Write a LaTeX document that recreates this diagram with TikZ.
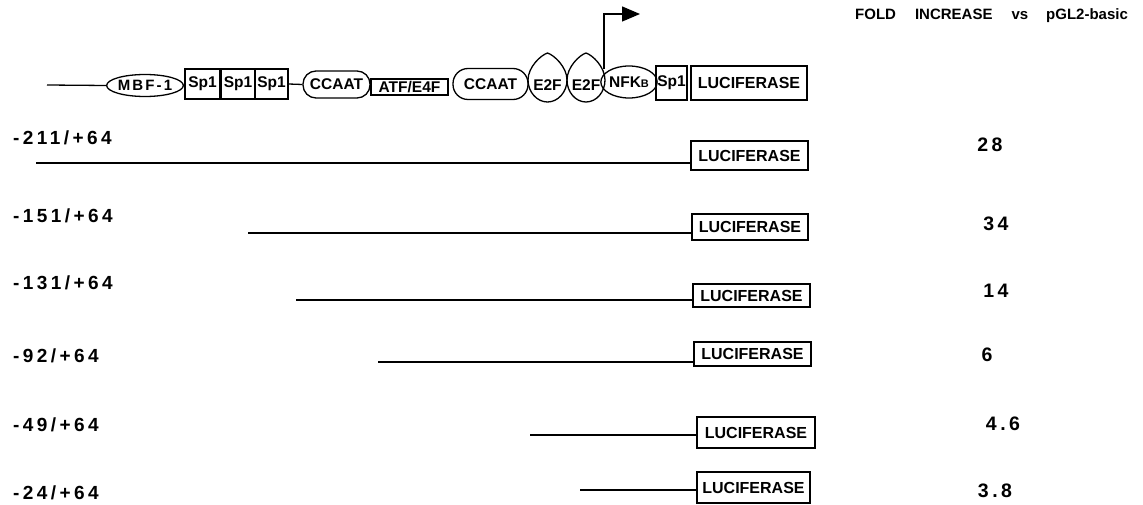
\documentclass[tikz,border=0pt]{standalone}
\usepackage{fontspec}
\setmainfont{Liberation Sans}
\newfontfamily\widefont[LetterSpace=18]{Liberation Sans}
\newfontfamily\mbffont[LetterSpace=14]{Liberation Sans}
\usetikzlibrary{arrows.meta,shapes.geometric}

\tikzset{
  elem/.style={draw, line width=1.3pt, inner sep=0pt,
               font=\fontsize{15.5}{15.5}\selectfont\bfseries},
  boxel/.style={elem, rectangle},
  ovalel/.style={elem, ellipse},
  pillel/.style={elem, rectangle, rounded corners=13pt},
  dna/.style={line width=1.3pt},
  lucbox/.style={draw, line width=1.4pt, inner sep=0pt,
                 font=\fontsize{16}{16}\selectfont\bfseries},
  rowlabel/.style={anchor=west, inner sep=0pt,
                   font=\widefont\fontsize{19}{19}\selectfont\bfseries},
  foldval/.style={inner sep=0pt,
                  font=\widefont\fontsize{19.5}{19.5}\selectfont\bfseries},
}

\begin{document}
\begin{tikzpicture}[x=1pt,y=-1pt]
\useasboundingbox (0,0) rectangle (1143,505);

% column heading
\node[anchor=west, inner sep=0pt, font=\fontsize{15}{15}\selectfont\bfseries]
  (head) at (855,16) {FOLD\hspace{19pt}INCREASE\hspace{19pt}vs\hspace{18pt}pGL2-basic};

% ---- promoter construct ----
\coordinate (dnastart) at (47,85);
\node[ovalel, minimum width=66pt, minimum height=22pt, font=\mbffont\fontsize{15}{15}\selectfont\bfseries]
  (mbf) at (145,85.5) {MBF-1};
\node[boxel, minimum width=35pt, minimum height=30pt] (spa) at (202.5,84) {Sp1};
\node[boxel, minimum width=34pt, minimum height=30pt] (spb) at (238,84) {Sp1};
\node[boxel, minimum width=33pt, minimum height=30pt] (spc) at (271.5,84) {Sp1};
\node[pillel, minimum width=67pt, minimum height=27pt] (ccaata) at (336.5,84.5) {CCAAT};
\node[boxel, minimum width=77pt, minimum height=16pt] (atf) at (409.5,87) {ATF/E4F};
\node[pillel, minimum width=75pt, minimum height=31pt, rounded corners=15pt] (ccaatb) at (490.5,84) {CCAAT};

% E2F sites: bulb-shaped outlines
\draw[line width=1.3pt] (547.5,53) .. controls (554,55) and (567,67) .. (567,80)
  .. controls (567,92) and (558,102) .. (547.5,102)
  .. controls (537,102) and (528,92) .. (528,80)
  .. controls (528,67) and (541,55) .. (547.5,53);
\draw[line width=1.3pt] (586,53) .. controls (592.5,55) and (605,67) .. (605,80)
  .. controls (605,92) and (596.5,102) .. (586,102)
  .. controls (575.5,102) and (567,92) .. (567,80)
  .. controls (567,67) and (579.5,55) .. (586,53);
\node[inner sep=0pt, font=\fontsize{15.5}{15.5}\selectfont\bfseries] (e2fa) at (547.5,85) {E2F};
\node[inner sep=0pt, font=\fontsize{15.5}{15.5}\selectfont\bfseries] (e2fb) at (586,85) {E2F};

\node[ovalel, minimum width=48pt, minimum height=32pt] (nfkb) at (629,82)
  {NFK\fontsize{11}{11}\selectfont B};
\node[boxel, minimum width=31pt, minimum height=34pt] (spd) at (671.5,83) {Sp1};
\node[lucbox, minimum width=116pt, minimum height=34pt] (luctop) at (749,83) {LUCIFERASE};

\draw[dna] (dnastart) -- (mbf.west);
\draw[dna] (mbf.east) -- (spa.west);
\draw[dna] (spc.east) -- (ccaata.west);

% transcription start
\coordinate (tss) at (604,69);
\coordinate (tsstip) at (640,14);
\draw[line width=1.3pt, -{Triangle[length=18pt,width=15pt]}] (tss) |- (tsstip);

% ---- deletion constructs ----
\foreach \i/\lab/\ly/\sx/\sy/\bl/\br/\bt/\bb/\num/\nx/\ny in {
  1/-211/138/36/163/691/808/141/170/28/990/145,
  2/-151/216/248/233/692/808/214/240/34/996/224,
  3/-131/283/296/300/693/810/284/307/14/996/291,
  4/-92/356/378/362/694/811/342/366/6/987/355,
  5/-49/425/530/435/697/815/417/448/4.6/1003/424,
  6/-24/493/580/490/697/810/472/503/3.8/995/491}
{
  \node[rowlabel] (lab\i) at (13,\ly) {\lab/+64};
  \node[lucbox, minimum width={(\br-\bl)*1pt}, minimum height={(\bb-\bt)*1pt}]
    (luc\i) at ({(\bl+\br)/2},{(\bt+\bb)/2}) {LUCIFERASE};
  \coordinate (start\i) at (\sx,\sy);
  \draw[line width=1.4pt] (start\i) -- (start\i -| luc\i.west);
  \node[foldval] (fold\i) at (\nx,\ny) {\num};
}
\end{tikzpicture}
\end{document}
